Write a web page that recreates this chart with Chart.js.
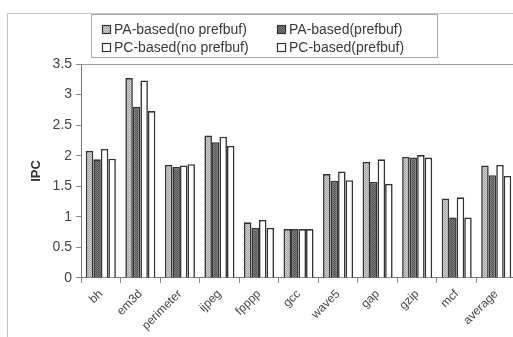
<!DOCTYPE html>
<html>
<head>
<meta charset="utf-8">
<script src="https://cdn.jsdelivr.net/npm/chart.js@4/dist/chart.umd.min.js"></script>
<style>
  html, body { margin: 0; padding: 0; background: #fff; overflow: hidden; }
  #wrap { width: 522px; height: 345px; }
</style>
</head>
<body>
<div id="wrap"><canvas id="myChart"></canvas></div>
<script>
// benchmarks on the x axis
const benchmarks = ['bh', 'em3d', 'perimeter', 'ijpeg', 'fpppp', 'gcc', 'wave5', 'gap', 'gzip', 'mcf', 'average'];

// IPC per benchmark, one array per configuration
const paNoPrefbuf = [2.08, 3.27, 1.85, 2.33, 0.91, 0.80, 1.70, 1.90, 1.98, 1.30, 1.84];
const paPrefbuf   = [1.94, 2.80, 1.82, 2.22, 0.82, 0.80, 1.59, 1.57, 1.97, 0.99, 1.68];
const pcNoPrefbuf = [2.11, 3.23, 1.84, 2.31, 0.95, 0.80, 1.74, 1.94, 2.01, 1.32, 1.85];
const pcPrefbuf   = [1.95, 2.73, 1.86, 2.16, 0.82, 0.80, 1.60, 1.54, 1.97, 0.99, 1.67];

const seriesNames = ['PA-based(no prefbuf)', 'PA-based(prefbuf)', 'PC-based(no prefbuf)', 'PC-based(prefbuf)'];

// small dotted fill, like a printed halftone
function dotted(base, dot) {
    const c = document.createElement('canvas');
    c.width = 2; c.height = 2;
    const g = c.getContext('2d');
    g.fillStyle = base; g.fillRect(0, 0, 2, 2);
    g.fillStyle = dot; g.fillRect(0, 0, 1, 1); g.fillRect(1, 1, 1, 1);
    return g.createPattern(c, 'repeat');
}

const fills = [dotted('#d2d2d2', '#a4a4a4'), dotted('#808080', '#505050'), '#ffffff', '#ffffff'];
const values = [paNoPrefbuf, paPrefbuf, pcNoPrefbuf, pcPrefbuf];

const datasets = seriesNames.map((name, i) => ({
    label: name,
    data: values[i],
    backgroundColor: fills[i],
    borderColor: '#333',
    borderWidth: 1.6,
    borderSkipped: 'bottom',
    categoryPercentage: 0.76,
    barPercentage: 1.0
}));

// boxed legend in two columns, two rows
const gridLegend = {
    id: 'gridLegend',
    afterDraw(chart) {
        const ctx = chart.ctx;
        const box = { left: 91, top: 14, width: 346, height: 43 };
        const colX = [102, 277];
        const rowY = [30, 48];
        ctx.save();
        ctx.lineWidth = 1;
        ctx.strokeStyle = '#aaa';
        ctx.strokeRect(box.left + 0.5, box.top + 0.5, box.width, box.height);
        ctx.font = '14px Arial, "Liberation Sans", sans-serif';
        ctx.textBaseline = 'middle';
        chart.data.datasets.forEach((ds, i) => {
            const x = colX[i % 2];
            const y = rowY[Math.floor(i / 2)];
            ctx.fillStyle = ds.backgroundColor;
            ctx.fillRect(x, y - 5, 9, 9);
            ctx.strokeStyle = '#333';
            ctx.lineWidth = 1.2;
            ctx.strokeRect(x + 0.5, y - 4.5, 8, 8);
            ctx.fillStyle = '#3a3a3a';
            ctx.fillText(ds.label, x + 12, y);
        });
        ctx.restore();
    }
};

// outer frame and the top edge of the plot
const frames = {
    id: 'frames',
    afterDraw(chart) {
        const ctx = chart.ctx;
        const a = chart.chartArea;
        ctx.save();
        ctx.lineWidth = 1;
        ctx.strokeStyle = '#c4c4c4';
        ctx.beginPath();
        ctx.moveTo(7.5, chart.height);
        ctx.lineTo(7.5, 13.5);
        ctx.lineTo(chart.width, 13.5);
        ctx.stroke();
        ctx.strokeStyle = '#9a9a9a';
        ctx.beginPath();
        ctx.moveTo(a.left, Math.round(a.top) + 0.5);
        ctx.lineTo(a.right, Math.round(a.top) + 0.5);
        ctx.stroke();
        ctx.restore();
    }
};

Chart.defaults.font.family = 'Arial, "Liberation Sans", sans-serif';
Chart.defaults.color = '#444';

new Chart(document.getElementById('myChart'), {
    type: 'bar',
    data: { labels: benchmarks, datasets: datasets },
    options: {
        responsive: true,
        maintainAspectRatio: false,
        animation: false,
        layout: { padding: { top: 64, left: 25, right: 6, bottom: 8 } },
        plugins: {
            tooltip: { enabled: false },
            legend: { display: false }
        },
        scales: {
            y: {
                min: 0,
                max: 3.5,
                ticks: {
                    stepSize: 0.5,
                    font: { size: 14 },
                    color: '#444',
                    padding: 4,
                    callback: (v) => String(v)
                },
                grid: { drawOnChartArea: false, tickLength: 5, color: '#888' },
                border: { color: '#777' },
                title: { display: true, text: 'IPC', font: { size: 13, weight: 'bold' }, color: '#333', padding: 4 }
            },
            x: {
                ticks: { minRotation: 45, maxRotation: 45, font: { size: 12 }, color: '#444', padding: 4 },
                grid: { drawOnChartArea: false, tickLength: 5, color: '#888' },
                border: { color: '#777' }
            }
        }
    },
    plugins: [frames, gridLegend]
});
</script>
</body>
</html>
